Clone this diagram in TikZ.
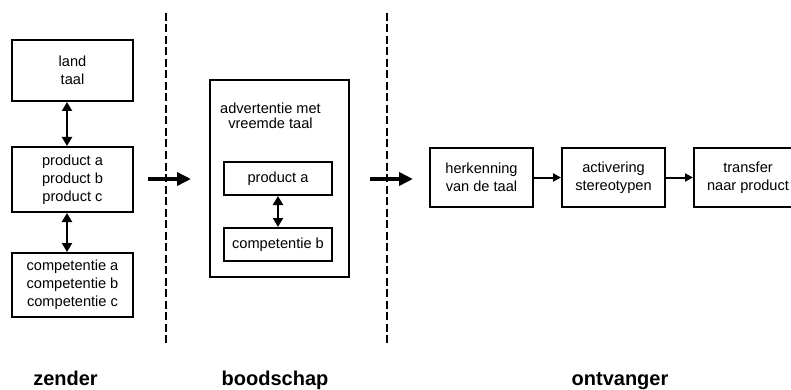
\documentclass[tikz,border=0pt]{standalone}
\usepackage{fontspec}
\setmainfont{Liberation Sans}
\usetikzlibrary{arrows.meta}

\begin{document}
\begin{tikzpicture}[x=1pt,y=-1pt,
  box/.style={draw,line width=2pt,align=center,inner sep=0pt,font=\fontsize{14.6}{17.8}\selectfont},
  dbl/.style={line width=2.6pt,{Triangle[length=9pt,width=10pt]}-{Triangle[length=9pt,width=10pt]}},
  flow/.style={line width=2pt,-{Triangle[length=8pt,width=8pt]}},
  big/.style={line width=4pt,-{Triangle[length=14pt,width=13pt]}},
  divider/.style={line width=2.2pt,dash pattern=on 8pt off 3.5pt},
  title/.style={font=\fontsize{20}{24}\selectfont\bfseries,anchor=base}]
\useasboundingbox (0,0) rectangle (791,390);

\begin{scope} %zender
\node[box,minimum width=121,minimum height=61] (land) at (72.5,70.5) {land\\taal};
\node[box,minimum width=121,minimum height=65] (prod) at (72.5,179.5) {product a\\product b\\product c};
\node[box,minimum width=121,minimum height=64] (comp) at (72.5,285) {competentie a\\competentie b\\competentie c};
\draw[dbl] ([xshift=-5.5]land.south) -- ([xshift=-5.5]prod.north);
\draw[dbl] ([xshift=-5.5]prod.south) -- ([xshift=-5.5]comp.north);
\node[title] (zender) at (65.5,385) {zender};
\end{scope}

\coordinate (div1top) at (166,13); \coordinate (div1bot) at (166,343);
\coordinate (div2top) at (387,13); \coordinate (div2bot) at (387,343);
\draw[divider] (div1top) -- (div1bot);
\draw[divider] (div2top) -- (div2bot);

\coordinate (in1) at (148,179); \coordinate (out1) at (191,179);
\coordinate (in2) at (370,179); \coordinate (out2) at (413,179);
\draw[big] (in1) -- (out1);
\draw[big] (in2) -- (out2);

\begin{scope} %boodschap
\node[box,minimum width=139,minimum height=197] (adv) at (279.5,178.5) {};
\node[box,draw=none,font=\fontsize{14.6}{15}\selectfont] (advtxt) at (270.5,116) {advertentie met\\vreemde taal};
\node[box,minimum width=108,minimum height=33] (proda) at (278,178.5) {product a};
\node[box,minimum width=108,minimum height=33] (compb) at (278,244.5) {competentie b};
\draw[dbl] (proda) -- (compb);
\node[title] (boodschap) at (275,385) {boodschap};
\end{scope}

\begin{scope} %ontvanger
\node[box,minimum width=103,minimum height=59] (herk) at (481.5,177.5) {herkenning\\van de taal};
\node[box,minimum width=103,minimum height=59] (activ) at (613.5,177.5) {activering\\stereotypen};
\node[box,minimum width=108,minimum height=59] (trans) at (748,177.5) {transfer\\naar product};
\draw[flow] (herk) -- (activ);
\draw[flow] (activ) -- (trans);
\node[title] (ontvanger) at (620,385) {ontvanger};
\end{scope}
\end{tikzpicture}
\end{document}
